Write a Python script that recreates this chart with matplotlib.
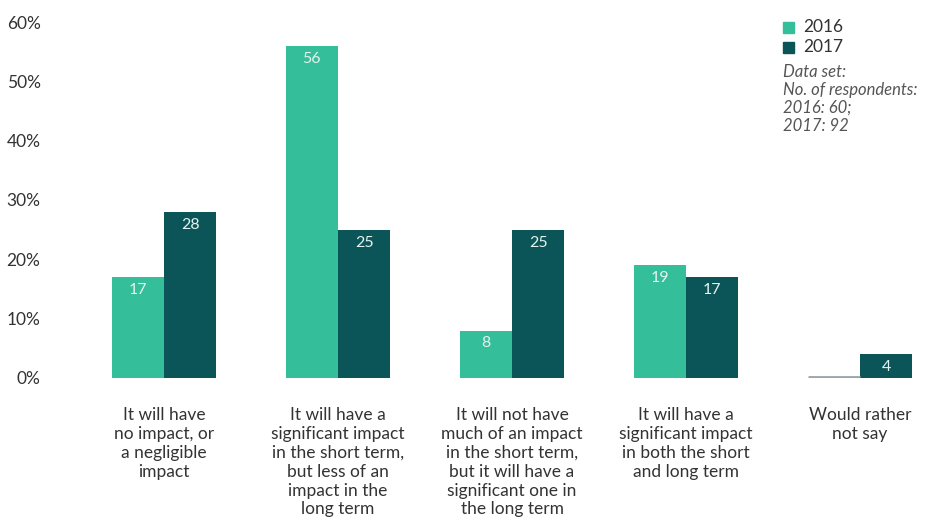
import numpy as np
import matplotlib
matplotlib.use('Agg')
import matplotlib.pyplot as plt

plt.rcParams['font.family'] = ['Lato', 'DejaVu Sans']

# Data
categories = ['It will have\nno impact, or\na negligible\nimpact',
              'It will have a\nsignificant impact\nin the short term,\nbut less of an\nimpact in the\nlong term',
              'It will not have\nmuch of an impact\nin the short term,\nbut it will have a\nsignificant one in\nthe long term',
              'It will have a\nsignificant impact\nin both the short\nand long term',
              'Would rather\nnot say']
values_2016 = [17, 56, 8, 19, 0]
values_2017 = [28, 25, 25, 17, 4]
yticks = [0, 10, 20, 30, 40, 50, 60]

c2016 = '#34be9a'
c2017 = '#0b5559'
text_col = '#333333'

fig = plt.figure(figsize=(9.3, 5.2), dpi=100)
ax = fig.add_axes([60 / 930, 142 / 520, 865 / 930, 356 / 520])

x = np.arange(len(categories))
w = 0.3
b1 = ax.bar(x - w / 2, values_2016, w, color=c2016, label='2016')
b2 = ax.bar(x + w / 2, values_2017, w, color=c2017, label='2017')

# zero value drawn as thin grey line
for xi, v in zip(x, values_2016):
    if v == 0:
        ax.plot([xi - w, xi], [0.15, 0.15], color='#9aa4aa', lw=2, solid_capstyle='butt')

for bars, vals in [(b1, values_2016), (b2, values_2017)]:
    for bar, v in zip(bars, vals):
        if v > 0:
            ax.text(bar.get_x() + bar.get_width() / 2, v - 1.0, str(v),
                    ha='center', va='top', color='#e4f3ef', fontsize=11.5)

ax.set_xlim(-104 / 174, 761 / 174)
ax.set_ylim(0, 60)
ax.set_yticks(yticks)
ax.set_yticklabels([f'{t}%' for t in yticks], fontsize=12.5, color=text_col)
ax.set_xticks(x)
ax.set_xticklabels(categories, fontsize=12.5, color=text_col, linespacing=1.22, va='top')
ax.tick_params(axis='both', length=0)
ax.tick_params(axis='x', pad=21)
ax.tick_params(axis='y', pad=14)
for s in ax.spines.values():
    s.set_visible(False)

# legend
fig.patches.append(plt.Rectangle((783 / 930, 1 - 33 / 520), 11 / 930, 11 / 520,
                                 transform=fig.transFigure, color=c2016))
fig.patches.append(plt.Rectangle((783 / 930, 1 - 53 / 520), 11 / 930, 11 / 520,
                                 transform=fig.transFigure, color=c2017))
fig.text(803 / 930, 1 - 27 / 520, '2016', fontsize=12.5, color=text_col, va='center')
fig.text(803 / 930, 1 - 47 / 520, '2017', fontsize=12.5, color=text_col, va='center')
fig.text(783 / 930, 1 - 64 / 520,
         'Data set:\nNo. of respondents:\n2016: 60;\n2017: 92',
         fontsize=12, style='italic', color='#555555', va='top', linespacing=1.15)

fig.savefig('out.png', dpi=100)
